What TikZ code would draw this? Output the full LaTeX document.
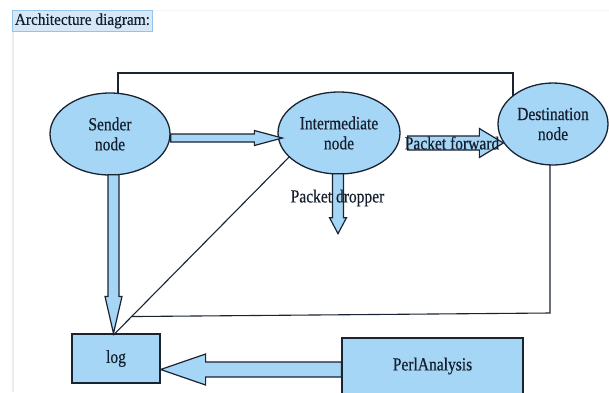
\documentclass[tikz,border=0pt]{standalone}
\usepackage{fontspec}
\setmainfont[FakeStretch=0.84,FakeBold=0.4]{Liberation Serif}
\newfontfamily\titlefont[FakeStretch=0.93,FakeBold=0.4]{Liberation Serif}
\usetikzlibrary{shapes.geometric,calc,backgrounds}
\definecolor{fillc}{RGB}{166,214,246}
\definecolor{linec}{RGB}{25,35,50}
\definecolor{txtc}{RGB}{20,30,45}
\definecolor{titlef}{RGB}{214,232,248}
\definecolor{titled}{RGB}{150,195,235}
% block arrow: #1 start, #2 tip, #3 shaft half width, #4 head half width, #5 head length
\newcommand\blockarr[5]{%
  \coordinate (ba-h) at ($(#2)!#5!(#1)$);
  \filldraw[blockarrow] ($(#1)!#3!90:(#2)$) -- ($(ba-h)!#3!90:(#2)$) --
    ($(ba-h)!#4!90:(#2)$) -- (#2) -- ($(ba-h)!#4!-90:(#2)$) --
    ($(ba-h)!#3!-90:(#2)$) -- ($(#1)!#3!-90:(#2)$) -- cycle;}
\begin{document}
\begin{tikzpicture}[x=1pt,y=-1pt,
  ell/.style={ellipse, draw=linec, fill=fillc, line width=1.3pt, inner sep=0pt,
    align=center, text=txtc, font=\fontsize{18.5}{20}\selectfont},
  boxnode/.style={rectangle, draw=linec, fill=fillc, line width=1.2pt, inner sep=0pt,
    text=txtc, font=\fontsize{18.5}{20}\selectfont},
  blockarrow/.style={draw=linec, fill=fillc, line width=1.2pt, line join=miter},
  thinln/.style={draw=linec, line width=1.1pt},
  lbl/.style={inner sep=0pt, text=txtc, font=\fontsize{18.5}{20}\selectfont}]
\useasboundingbox (0,0) rectangle (609,392);

% title
\node[fill=titlef, draw=titled, line width=0.8pt, minimum width=140, minimum height=21,
  inner sep=0pt, anchor=north west, text=txtc, font=\titlefont\fontsize{16.5}{18}\selectfont]
  (T) at (12,10) {Architecture diagram:};

% nodes
\node[ell, minimum width=120, minimum height=82] (S) at (110,134) {Sender\\node};
\node[ell, minimum width=122, minimum height=82] (I) at (339,133) {Intermediate\\node};
\node[ell, minimum width=110, minimum height=82] (D) at (553,124) {Destination\\node};
\node[boxnode, minimum width=88, minimum height=49] (L) at (116,358.5) {log};
\node[boxnode, minimum width=181, minimum height=56] (P) at (432.5,366) {PerlAnalysis};

% thin connectors (behind the nodes)
\begin{scope}[on background layer]
  \fill[white] (0,0) rectangle (609,392);
  \draw[gray!15, line width=1.5pt] ($(T.south west)+(1,0)$) -- (13,392);
  \draw[gray!6, line width=0.8pt] (T.north east) -- (609,10);
  \draw[thinln] ($(S.center)+(8,0)$) |- ($(D.center)+(-40,-51)$) -- ($(D.center)+(-40,0)$);
  \coordinate (dA) at ($(L.north)+(-1,0)$);
  \coordinate (dB) at ($(I.center)+(-39,13)$);
  \draw[thinln] (dA) -- (dB);
  \coordinate (j) at ($(dA)!0.09!(dB)$);
  \draw[thinln] ($(D.center)+(-3,0)$) -- ($(D.center)+(-3,189)$) -- (j);
\end{scope}

% block arrows
\coordinate (a1s) at ($(S.east)+(0,4)$);
\coordinate (a1e) at ($(I.west)+(5,5)$);
\blockarr{a1s}{a1e}{4pt}{7.5pt}{28pt}
\coordinate (a2s) at ($(I.east)+(7,10)$);
\coordinate (a2e) at ($(D.west)+(6,19)$);
\blockarr{a2s}{a2e}{7pt}{14.5pt}{24pt}
\coordinate (a3s) at ($(I.south)+(-1,-1)$);
\coordinate (a3e) at ($(I.south)+(-1,59)$);
\blockarr{a3s}{a3e}{5.5pt}{8.5pt}{16pt}
\coordinate (a4s) at ($(S.south)+(3.5,-1)$);
\coordinate (a4e) at ($(L.north)+(-2.5,0)$);
\blockarr{a4s}{a4e}{5.5pt}{8.5pt}{37pt}
\coordinate (a5s) at ($(P.west)+(0,3.5)$);
\coordinate (a5e) at ($(L.east)+(0,11)$);
\blockarr{a5s}{a5e}{7.5pt}{15.5pt}{45pt}

% labels over the arrows
\node[lbl] (pf) at (452,143) {Packet forward};
\node[lbl] (pd) at (337.5,198) {Packet dropper};
\end{tikzpicture}
\end{document}
